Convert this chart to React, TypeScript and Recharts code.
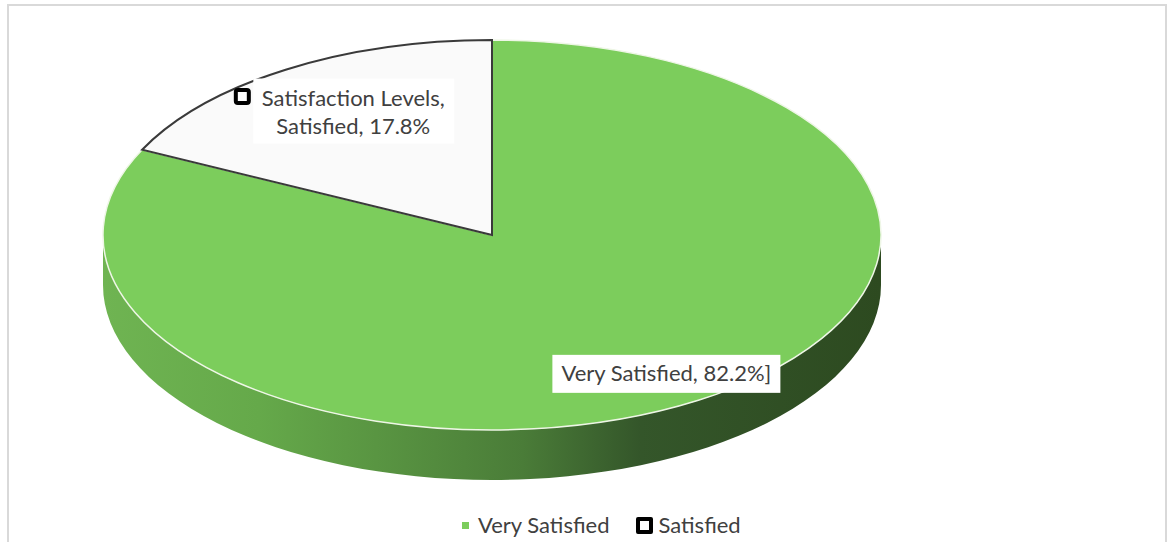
import React from 'react';
import { PieChart, Pie, Cell, Legend } from 'recharts';

const seriesName = 'Satisfaction Levels';
const categories = ['Very Satisfied', 'Satisfied'];
const shares = [82.2, 17.8];
const sliceColors = ['#7ccd5c', '#fafafa'];

const data = categories.map((name, i) => ({ name, value: shares[i] }));

const TILT = 195 / 389;
const DEPTH = 50;
const RAD = Math.PI / 180;
const FONT = 'Lato, "Liberation Sans", sans-serif';
const TEXT = '#404040';
const FS = 22;
// label anchor as fraction of radius (x, y) per slice
const LABEL_R = [
  [0.845, 0.84],
  [0.672, 0.753],
];

const pt = (cx: number, cy: number, r: number, a: number) => [
  cx + r * Math.cos(a * RAD),
  cy - r * TILT * Math.sin(a * RAD),
];

const Slice3D = (props: any) => {
  const { cx, cy, outerRadius: r, startAngle, endAngle, fill, index } = props;
  const ry = r * TILT;
  const [x1, y1] = pt(cx, cy, r, startAngle);
  const [x2, y2] = pt(cx, cy, r, endAngle);
  const large = Math.abs(startAngle - endAngle) > 180 ? 1 : 0;
  const sweep = startAngle > endAngle ? 1 : 0;
  const top = `M${cx},${cy} L${x1},${y1} A${r},${ry} 0 ${large} ${sweep} ${x2},${y2} Z`;

  // visible front wall: part of the slice between 0 and -180 degrees
  const hi = Math.min(Math.max(startAngle, endAngle), 0);
  const lo = Math.max(Math.min(startAngle, endAngle), -180);
  let side: string | null = null;
  if (hi > lo) {
    const [a1, b1] = pt(cx, cy, r, hi);
    const [a2, b2] = pt(cx, cy, r, lo);
    const lg = hi - lo > 180 ? 1 : 0;
    side = `M${a1},${b1} A${r},${ry} 0 ${lg} 1 ${a2},${b2} L${a2},${b2 + DEPTH} A${r},${ry} 0 ${lg} 0 ${a1},${b1 + DEPTH} Z`;
  }
  const gid = `side-grad-${index}`;
  const dark = index === 1;

  return (
    <g>
      <defs>
        <linearGradient id={gid} gradientUnits="userSpaceOnUse" x1={cx - r} y1={0} x2={cx + r} y2={0}>
          <stop offset="0%" stopColor="#6fb452" />
          <stop offset="20%" stopColor="#65a94a" />
          <stop offset="54%" stopColor="#4a7c38" />
          <stop offset="69%" stopColor="#34562a" />
          <stop offset="100%" stopColor="#2d4a20" />
        </linearGradient>
      </defs>
      {side && <path d={side} fill={`url(#${gid})`} stroke="none" />}
      <path d={top} fill={fill} stroke={dark ? '#3a3a3a' : '#eef6e6'} strokeWidth={dark ? 2 : 1.5} />
    </g>
  );
};

const renderLabel = (props: any) => {
  const { cx, cy, midAngle, outerRadius, index, name, value } = props;
  const [fx, fy] = LABEL_R[index];
  const x = cx + outerRadius * fx * Math.cos(midAngle * RAD);
  const y = cy - outerRadius * TILT * fy * Math.sin(midAngle * RAD);
  const pct = `${Number(value).toFixed(1)}%`;

  if (index === 0) {
    return (
      <g>
        <rect x={x - 114} y={y - 19} width={228} height={38} fill="#ffffff" />
        <text x={x} y={y + 7} textAnchor="middle" fontFamily={FONT} fontSize={FS} fill={TEXT}>
          {`${name}, ${pct}]`}
        </text>
      </g>
    );
  }
  return (
    <g>
      <rect x={x - 100} y={y - 32} width={201} height={65} fill="#ffffff" />
      <rect x={x - 117.5} y={y - 20.5} width={13} height={13} rx={2} fill="#ffffff" stroke="#000000" strokeWidth={4} />
      <text x={x} y={y - 5} textAnchor="middle" fontFamily={FONT} fontSize={FS} fill={TEXT}>
        {`${seriesName},`}
      </text>
      <text x={x} y={y + 23} textAnchor="middle" fontFamily={FONT} fontSize={FS} fill={TEXT}>
        {`${name}, ${pct}`}
      </text>
    </g>
  );
};

const renderLegend = (props: any) => {
  const items = [...(props.payload || [])].sort(
    (a: any, b: any) => categories.indexOf(a.value) - categories.indexOf(b.value),
  );
  return (
    <div style={{ display: 'flex', alignItems: 'center', fontFamily: FONT, fontSize: FS, color: TEXT, lineHeight: '24px', whiteSpace: 'nowrap' }}>
      {items.map((item: any, i: number) => (
        <div key={item.value} style={{ display: 'flex', alignItems: 'center', marginRight: i === 0 ? 27 : 0 }}>
          {i === 0 ? (
            <span style={{ width: 7, height: 7, background: item.color, marginRight: 9, display: 'inline-block' }} />
          ) : (
            <span style={{ width: 9, height: 9, border: '4px solid #000', borderRadius: 2, background: '#fff', marginRight: 5, display: 'inline-block' }} />
          )}
          <span>{item.value}</span>
        </div>
      ))}
    </div>
  );
};

const App = () => {
  return (
    <div style={{ width: 1153, height: 534 }}>
      <div style={{ position: 'fixed', left: 0, top: 0, width: 1169, height: 542, overflow: 'hidden', background: '#fff' }}>
        <svg width={1169} height={542} style={{ position: 'absolute', left: 0, top: 0 }}>
          <rect x={8} y={5} width={1158} height={560} fill="#ffffff" stroke="#d9d9d9" strokeWidth={2} />
        </svg>
        <div style={{ position: 'absolute', left: 0, top: 0 }}>
          <PieChart width={1169} height={542} margin={{ top: 0, right: 0, bottom: 0, left: 0 }}>
            <Pie
              data={data}
              dataKey="value"
              nameKey="name"
              cx={492}
              cy={235}
              outerRadius={389}
              startAngle={90}
              endAngle={-270}
              isAnimationActive={false}
              shape={Slice3D}
              label={renderLabel}
              labelLine={false}
            >
              {data.map((d, i) => (
                <Cell key={d.name} fill={sliceColors[i]} />
              ))}
            </Pie>
            <Legend content={renderLegend} wrapperStyle={{ position: 'absolute', left: 462, top: 513, width: 400 }} />
          </PieChart>
        </div>
      </div>
    </div>
  );
};

export default App;
